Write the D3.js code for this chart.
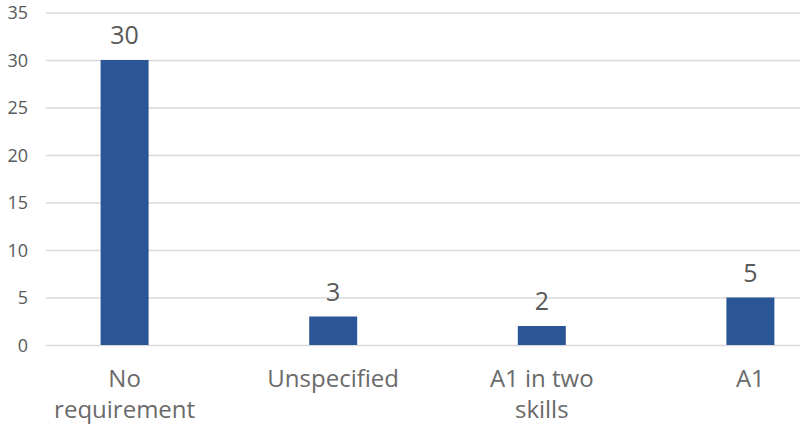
<!DOCTYPE html>
<html><head><meta charset="utf-8">
<script src="https://cdn.jsdelivr.net/npm/d3@7"></script>
<style>body{margin:0;background:#fff}svg{display:block}text{font-family:"Open Sans","Noto Sans",sans-serif}</style>
</head><body>
<svg id="c" width="800" height="428"></svg>
<script>
const categories = [["No","requirement"],["Unspecified"],["A1 in two","skills"],["A1"]];
const values = [30, 3, 2, 5];
const yTicks = [0, 5, 10, 15, 20, 25, 30, 35];

const svg = d3.select("#c");
const keys = categories.map(c => c.join(" "));
const x = d3.scaleBand().domain(keys).range([20.3, 854.7]).paddingInner(0.77).paddingOuter(0.385);
const y = d3.scaleLinear().domain([0, 35]).range([345, 12.5]);

const yAxis = d3.axisLeft(y).tickValues(yTicks).tickSize(-(800 - 46)).tickPadding(18);
const gy = svg.append("g").attr("transform", "translate(46,0)").call(yAxis);
gy.select(".domain").remove();
gy.selectAll(".tick line").attr("stroke", "#d9d9d9").attr("stroke-width", 1.5);
gy.selectAll(".tick text").attr("fill", "#595959").attr("font-size", 18).attr("dy", "0.36em");

svg.append("g").selectAll("rect").data(values).join("rect")
  .attr("x", (d, i) => x(keys[i]))
  .attr("width", x.bandwidth())
  .attr("y", d => y(d))
  .attr("height", d => y(0) - y(d))
  .attr("fill", "#2a5597");

svg.append("g").selectAll("text").data(values).join("text")
  .attr("x", (d, i) => x(keys[i]) + x.bandwidth() / 2)
  .attr("y", d => y(d) - 16)
  .attr("text-anchor", "middle")
  .attr("font-size", 25)
  .attr("fill", "#595959")
  .text(d => d);

const cl = svg.append("g").selectAll("text").data(categories).join("text")
  .attr("x", (d, i) => x(keys[i]) + x.bandwidth() / 2)
  .attr("y", 387)
  .attr("text-anchor", "middle")
  .attr("font-size", 24)
  .attr("fill", "#6a6a6a");
cl.selectAll("tspan").data(d => d).join("tspan")
  .attr("x", function() { return this.parentNode.getAttribute("x"); })
  .attr("dy", (d, i) => i === 0 ? 0 : 31)
  .text(d => d);
</script>
</body></html>
